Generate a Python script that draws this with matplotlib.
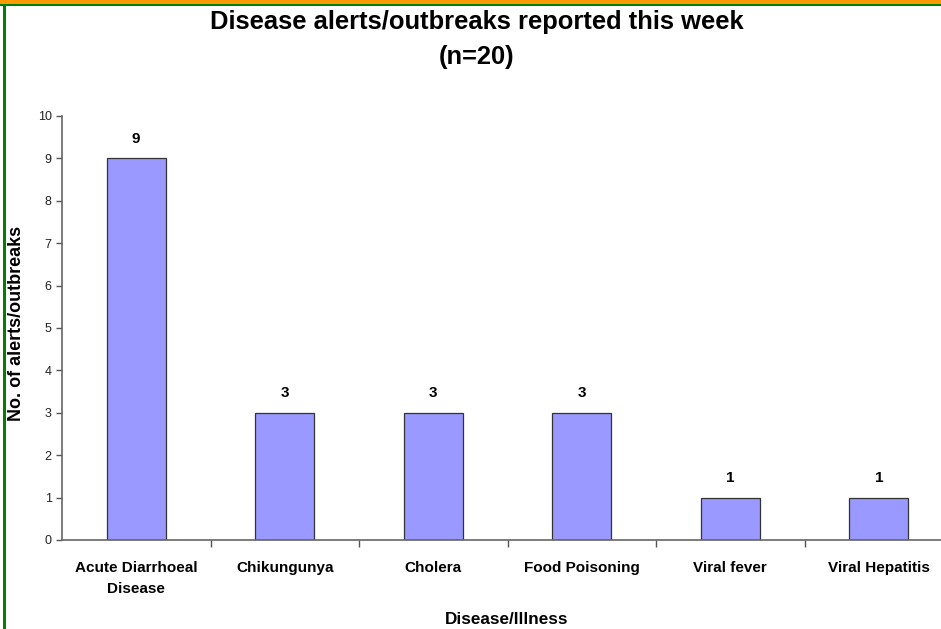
import matplotlib
matplotlib.use("Agg")
import matplotlib.pyplot as plt
from matplotlib.patches import Rectangle

categories = ["Acute Diarrhoeal\nDisease", "Chikungunya", "Cholera",
              "Food Poisoning", "Viral fever", "Viral Hepatitis"]
counts = [9, 3, 3, 3, 1, 1]
y_ticks = list(range(0, 11))

W, H = 941, 629
fig = plt.figure(figsize=(W / 100, H / 100), dpi=100)
plt.rcParams['font.family'] = ['Liberation Sans', 'DejaVu Sans']
narrow = ['Liberation Sans Narrow', 'Liberation Sans', 'DejaVu Sans']


def px_rect(x0, y0, w, h, color):
    # rectangle in pixel coords, y measured from the top
    fig.add_artist(Rectangle((x0 / W, 1 - (y0 + h) / H), w / W, h / H,
                             transform=fig.transFigure, color=color, lw=0))


# page border (orange top band, green inner lines)
px_rect(0, 0, W, 4, "#FF9900")
px_rect(0, 4, W, 2, "#008000")
px_rect(3, 4, 3, H - 4, "#008000")

left, right = 62, 941
bottom, top = 540, 116
ax = fig.add_axes([left / W, (H - bottom) / H, (right - left) / W, (bottom - top) / H])

x = list(range(len(categories)))
step = 148.5
ax.bar(x, counts, width=0.4, color="#9999FF", edgecolor="#333333", linewidth=0.9, zorder=2)
for xi, v in zip(x, counts):
    ax.text(xi, v + 0.3, str(v), ha="center", va="bottom",
            fontsize=11, fontweight="bold", family=narrow)

ax.set_xlim(-0.5, -0.5 + (right - left) / step)
ax.set_ylim(0, 10)
ax.set_yticks(y_ticks)
ax.tick_params(axis="y", labelsize=9, colors="#555555", labelcolor="#222222",
               length=4, width=1, direction="out")

ax.set_xticks(x)
ax.set_xticklabels(categories, fontsize=11, fontweight="bold", family=narrow,
                   linespacing=1.65)
ax.tick_params(axis="x", which="major", length=0, pad=15)
ax.set_xticks([i + 0.5 for i in range(len(categories) - 1)], minor=True)
ax.tick_params(axis="x", which="minor", length=5, width=1, color="#555555", direction="out")

for s in ["top", "right"]:
    ax.spines[s].set_visible(False)
for s in ["left", "bottom"]:
    ax.spines[s].set_color("#666666")
    ax.spines[s].set_linewidth(1.2)

fig.text(17 / W, 1 - 323 / H, "No. of alerts/outbreaks", ha="center", va="center",
         rotation=90, fontsize=13, fontweight="bold")
fig.text(507 / W, 1 - 619 / H, "Disease/Illness", ha="center", va="center",
         fontsize=12.3, fontweight="bold")
fig.text(477 / W, 1 - 22 / H, "Disease alerts/outbreaks reported this week",
         ha="center", va="center", fontsize=18.4, fontweight="bold")
fig.text(477 / W, 1 - 57 / H, "(n=20)", ha="center", va="center",
         fontsize=18.4, fontweight="bold")

fig.savefig("out.png", dpi=100)
